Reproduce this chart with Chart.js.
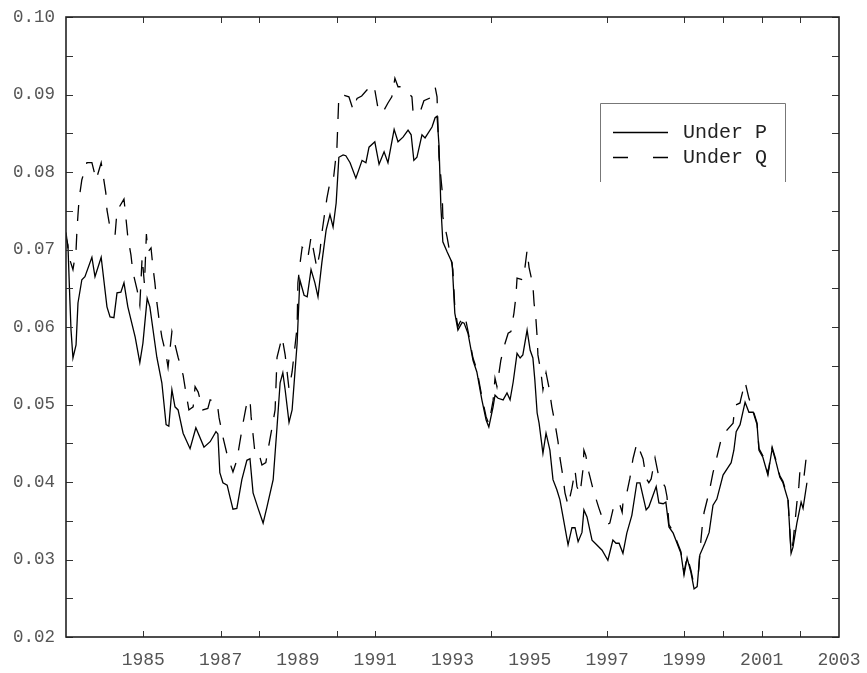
<!DOCTYPE html>
<html><head><meta charset="utf-8">
<script src="https://cdn.jsdelivr.net/npm/chart.js@4/dist/chart.umd.min.js"></script>
<style>html,body{margin:0;padding:0;background:#fff}#wrap{width:867px;height:673px}</style>
</head><body><div id="wrap"><canvas id="c" width="867" height="673"></canvas></div>
<script>
// [year, value]
const underP = [[1983.00,0.0716],[1983.05,0.0706],[1983.10,0.0635],[1983.13,0.0596],[1983.18,0.0560],[1983.26,0.0577],[1983.31,0.0631],[1983.41,0.0661],[1983.49,0.0665],[1983.67,0.0690],[1983.75,0.0665],[1983.91,0.0690],[1984.06,0.0626],[1984.14,0.0613],[1984.24,0.0612],[1984.32,0.0644],[1984.42,0.0645],[1984.50,0.0657],[1984.60,0.0626],[1984.79,0.0587],[1984.91,0.0554],[1984.99,0.0579],[1985.10,0.0637],[1985.17,0.0626],[1985.35,0.0561],[1985.48,0.0528],[1985.59,0.0474],[1985.66,0.0472],[1985.74,0.0519],[1985.82,0.0497],[1985.90,0.0493],[1986.03,0.0463],[1986.21,0.0443],[1986.36,0.0470],[1986.57,0.0445],[1986.73,0.0452],[1986.88,0.0465],[1986.93,0.0462],[1986.98,0.0412],[1987.06,0.0399],[1987.17,0.0396],[1987.24,0.0381],[1987.32,0.0365],[1987.42,0.0366],[1987.55,0.0403],[1987.68,0.0428],[1987.76,0.0430],[1987.84,0.0386],[1987.97,0.0366],[1988.10,0.0347],[1988.20,0.0368],[1988.36,0.0403],[1988.46,0.0471],[1988.54,0.0528],[1988.61,0.0541],[1988.67,0.0519],[1988.77,0.0477],[1988.85,0.0493],[1988.98,0.0579],[1989.05,0.0661],[1989.16,0.0641],[1989.24,0.0639],[1989.34,0.0674],[1989.44,0.0657],[1989.52,0.0639],[1989.62,0.0683],[1989.73,0.0725],[1989.83,0.0745],[1989.91,0.0729],[1989.99,0.0760],[1990.06,0.0819],[1990.17,0.0822],[1990.24,0.0821],[1990.35,0.0812],[1990.50,0.0792],[1990.66,0.0815],[1990.76,0.0812],[1990.84,0.0832],[1990.99,0.0839],[1991.10,0.0810],[1991.23,0.0826],[1991.33,0.0812],[1991.49,0.0855],[1991.59,0.0839],[1991.72,0.0845],[1991.85,0.0854],[1991.93,0.0848],[1992.00,0.0815],[1992.08,0.0819],[1992.21,0.0848],[1992.29,0.0844],[1992.47,0.0858],[1992.55,0.0870],[1992.60,0.0872],[1992.65,0.0835],[1992.70,0.0755],[1992.75,0.0710],[1992.86,0.0697],[1992.99,0.0683],[1993.06,0.0618],[1993.14,0.0596],[1993.25,0.0606],[1993.30,0.0605],[1993.40,0.0592],[1993.53,0.0557],[1993.63,0.0542],[1993.76,0.0506],[1993.87,0.0480],[1993.94,0.0471],[1994.05,0.0497],[1994.10,0.0512],[1994.18,0.0508],[1994.31,0.0506],[1994.41,0.0515],[1994.49,0.0506],[1994.57,0.0529],[1994.67,0.0566],[1994.75,0.0560],[1994.82,0.0564],[1994.93,0.0596],[1995.01,0.0570],[1995.08,0.0560],[1995.13,0.0532],[1995.19,0.0489],[1995.24,0.0476],[1995.34,0.0437],[1995.42,0.0463],[1995.52,0.0441],[1995.60,0.0403],[1995.70,0.0390],[1995.78,0.0377],[1995.86,0.0355],[1995.99,0.0319],[1996.09,0.0341],[1996.17,0.0341],[1996.25,0.0323],[1996.35,0.0335],[1996.40,0.0364],[1996.48,0.0355],[1996.61,0.0325],[1996.71,0.0320],[1996.87,0.0312],[1997.02,0.0299],[1997.15,0.0325],[1997.23,0.0321],[1997.31,0.0321],[1997.41,0.0308],[1997.51,0.0334],[1997.64,0.0357],[1997.77,0.0399],[1997.85,0.0399],[1998.01,0.0364],[1998.08,0.0368],[1998.27,0.0394],[1998.34,0.0373],[1998.45,0.0372],[1998.52,0.0374],[1998.60,0.0342],[1998.71,0.0334],[1998.81,0.0321],[1998.91,0.0308],[1998.99,0.0280],[1999.07,0.0302],[1999.17,0.0283],[1999.25,0.0262],[1999.33,0.0265],[1999.40,0.0306],[1999.53,0.0321],[1999.64,0.0335],[1999.74,0.0370],[1999.84,0.0378],[2000.00,0.0409],[2000.13,0.0419],[2000.21,0.0425],[2000.28,0.0441],[2000.34,0.0465],[2000.44,0.0474],[2000.57,0.0503],[2000.67,0.0490],[2000.78,0.0490],[2000.88,0.0474],[2000.93,0.0441],[2001.03,0.0432],[2001.16,0.0409],[2001.27,0.0443],[2001.37,0.0426],[2001.47,0.0406],[2001.55,0.0399],[2001.68,0.0377],[2001.76,0.0308],[2001.81,0.0316],[2001.91,0.0347],[2002.02,0.0374],[2002.07,0.0366],[2002.17,0.0399]];

const underQ = [[1983.00,0.0722],[1983.08,0.0690],[1983.18,0.0674],[1983.26,0.0699],[1983.28,0.0721],[1983.31,0.0745],[1983.34,0.0766],[1983.41,0.0790],[1983.54,0.0812],[1983.67,0.0812],[1983.78,0.0790],[1983.91,0.0812],[1983.96,0.0796],[1984.03,0.0773],[1984.06,0.0751],[1984.14,0.0728],[1984.27,0.0719],[1984.32,0.0750],[1984.50,0.0765],[1984.55,0.0741],[1984.60,0.0716],[1984.68,0.0693],[1984.73,0.0671],[1984.84,0.0648],[1984.91,0.0628],[1984.97,0.0690],[1985.03,0.0655],[1985.08,0.0720],[1985.12,0.0697],[1985.20,0.0702],[1985.25,0.0677],[1985.30,0.0657],[1985.35,0.0632],[1985.41,0.0609],[1985.48,0.0587],[1985.59,0.0564],[1985.64,0.0548],[1985.74,0.0594],[1985.90,0.0561],[1986.03,0.0538],[1986.10,0.0516],[1986.18,0.0493],[1986.29,0.0497],[1986.34,0.0523],[1986.42,0.0516],[1986.54,0.0493],[1986.67,0.0495],[1986.73,0.0506],[1986.91,0.0503],[1986.96,0.0483],[1987.06,0.0458],[1987.17,0.0435],[1987.32,0.0413],[1987.42,0.0428],[1987.50,0.0452],[1987.58,0.0476],[1987.66,0.0497],[1987.76,0.0507],[1987.79,0.0484],[1987.84,0.0461],[1987.89,0.0437],[1987.99,0.0437],[1988.07,0.0422],[1988.17,0.0425],[1988.25,0.0448],[1988.33,0.0470],[1988.41,0.0493],[1988.46,0.0561],[1988.59,0.0587],[1988.67,0.0564],[1988.77,0.0520],[1988.85,0.0542],[1988.98,0.0600],[1989.00,0.0657],[1989.05,0.0680],[1989.11,0.0703],[1989.18,0.0699],[1989.26,0.0690],[1989.34,0.0716],[1989.42,0.0695],[1989.49,0.0676],[1989.57,0.0697],[1989.62,0.0721],[1989.68,0.0742],[1989.75,0.0766],[1989.83,0.0787],[1989.91,0.0787],[1989.96,0.0809],[1990.01,0.0832],[1990.06,0.0899],[1990.20,0.0899],[1990.32,0.0897],[1990.43,0.0880],[1990.53,0.0895],[1990.65,0.0898],[1990.79,0.0906],[1990.97,0.0912],[1990.99,0.0906],[1991.07,0.0883],[1991.18,0.0876],[1991.23,0.0880],[1991.33,0.0889],[1991.43,0.0897],[1991.51,0.0921],[1991.59,0.0910],[1991.64,0.0910],[1991.80,0.0905],[1991.95,0.0897],[1991.98,0.0877],[1992.08,0.0880],[1992.16,0.0877],[1992.26,0.0892],[1992.40,0.0895],[1992.47,0.0903],[1992.55,0.0910],[1992.60,0.0897],[1992.65,0.0819],[1992.73,0.0777],[1992.75,0.0742],[1992.86,0.0716],[1993.01,0.0674],[1993.06,0.0625],[1993.14,0.0600],[1993.19,0.0606],[1993.32,0.0615],[1993.40,0.0595],[1993.53,0.0560],[1993.63,0.0545],[1993.76,0.0510],[1993.87,0.0484],[1993.94,0.0475],[1994.05,0.0505],[1994.10,0.0534],[1994.15,0.0523],[1994.25,0.0557],[1994.36,0.0579],[1994.44,0.0592],[1994.51,0.0594],[1994.59,0.0618],[1994.64,0.0639],[1994.67,0.0663],[1994.82,0.0661],[1994.85,0.0667],[1994.93,0.0699],[1994.98,0.0677],[1995.08,0.0654],[1995.11,0.0631],[1995.16,0.0609],[1995.19,0.0587],[1995.21,0.0564],[1995.29,0.0541],[1995.34,0.0519],[1995.42,0.0541],[1995.50,0.0521],[1995.57,0.0497],[1995.65,0.0476],[1995.73,0.0452],[1995.78,0.0431],[1995.86,0.0406],[1995.91,0.0386],[1995.99,0.0370],[1996.09,0.0392],[1996.17,0.0415],[1996.22,0.0394],[1996.30,0.0385],[1996.38,0.0418],[1996.40,0.0441],[1996.45,0.0434],[1996.53,0.0412],[1996.64,0.0390],[1996.79,0.0366],[1996.90,0.0350],[1997.00,0.0345],[1997.07,0.0347],[1997.15,0.0364],[1997.20,0.0370],[1997.31,0.0374],[1997.39,0.0361],[1997.41,0.0373],[1997.51,0.0386],[1997.59,0.0405],[1997.67,0.0430],[1997.77,0.0450],[1997.93,0.0430],[1998.01,0.0405],[1998.08,0.0399],[1998.14,0.0404],[1998.24,0.0431],[1998.34,0.0406],[1998.45,0.0398],[1998.50,0.0394],[1998.55,0.0381],[1998.60,0.0345],[1998.71,0.0336],[1998.81,0.0323],[1998.91,0.0310],[1998.99,0.0283],[1999.07,0.0304],[1999.17,0.0286],[1999.22,0.0274],[1999.35,0.0274],[1999.40,0.0310],[1999.46,0.0342],[1999.51,0.0361],[1999.64,0.0387],[1999.74,0.0412],[1999.84,0.0432],[1999.95,0.0455],[2000.10,0.0467],[2000.26,0.0476],[2000.31,0.0499],[2000.44,0.0502],[2000.46,0.0507],[2000.57,0.0529],[2000.67,0.0508],[2000.78,0.0492],[2000.88,0.0476],[2000.93,0.0443],[2001.03,0.0434],[2001.16,0.0411],[2001.27,0.0445],[2001.37,0.0428],[2001.47,0.0408],[2001.55,0.0401],[2001.68,0.0379],[2001.76,0.0310],[2001.81,0.0322],[2001.91,0.0373],[2001.96,0.0394],[2001.99,0.0415],[2002.09,0.0405],[2002.15,0.0431]];

const seriesNames = ['Under P', 'Under Q'];
const xLabelYears = [1985,1987,1989,1991,1993,1995,1997,1999,2001,2003];
const xTickYears = [1985,1987,1988,1990,1991,1994,1997,1999,2000,2001,2002];
const yLabelValues = [0.02,0.03,0.04,0.05,0.06,0.07,0.08,0.09,0.10];
const yTickValues = [0.02,0.025,0.03,0.035,0.04,0.045,0.05,0.055,0.06,0.065,0.07,0.075,0.08,0.085,0.09,0.095,0.10];

const FONT = "'Liberation Mono', 'DejaVu Sans Mono', monospace";

const framePlugin = {
  id: 'frame',
  afterDraw(chart) {
    const ctx = chart.ctx, a = chart.chartArea;
    const xs = chart.scales.x, ys = chart.scales.y;
    ctx.save();
    ctx.strokeStyle = '#333';
    ctx.lineWidth = 1;
    ctx.beginPath();
    xTickYears.forEach(v => {
      const px = Math.round(xs.getPixelForValue(v)) + 0.5;
      ctx.moveTo(px, a.bottom); ctx.lineTo(px, a.bottom - 6);
      ctx.moveTo(px, a.top); ctx.lineTo(px, a.top + 6);
    });
    yTickValues.forEach(v => {
      const py = Math.round(ys.getPixelForValue(v)) + 0.5;
      ctx.moveTo(a.left, py); ctx.lineTo(a.left + 7, py);
      ctx.moveTo(a.right, py); ctx.lineTo(a.right - 7, py);
    });
    ctx.stroke();
    ctx.lineWidth = 1.6;
    ctx.strokeStyle = '#222';
    ctx.strokeRect(a.left, a.top, a.right - a.left, a.bottom - a.top);

    // legend
    const L = 600, R = 785, T = 103, B = 182;
    ctx.lineWidth = 1;
    ctx.strokeStyle = '#777';
    ctx.beginPath();
    ctx.moveTo(L + 0.5, B); ctx.lineTo(L + 0.5, T + 0.5); ctx.lineTo(R + 0.5, T + 0.5); ctx.lineTo(R + 0.5, B);
    ctx.stroke();
    const rows = [132, 157];
    chart.data.datasets.forEach((ds, i) => {
      ctx.strokeStyle = '#000';
      ctx.lineWidth = 1.3;
      ctx.setLineDash(i === 0 ? [] : [15, 25]);
      ctx.beginPath();
      ctx.moveTo(613, rows[i] + 0.5); ctx.lineTo(668, rows[i] + 0.5);
      ctx.stroke();
      ctx.setLineDash([]);
      ctx.fillStyle = '#222';
      ctx.font = '20px ' + FONT;
      ctx.textBaseline = 'middle';
      ctx.textAlign = 'left';
      ctx.fillText(ds.label, 683, rows[i] + 1);
    });
    ctx.restore();
  }
};

new Chart(document.getElementById('c'), {
  type: 'line',
  data: {
    datasets: [
      { label: seriesNames[0], data: underP.map(p => ({x: p[0], y: p[1]})), borderColor: '#000', borderWidth: 1.3, pointRadius: 0, tension: 0, fill: false },
      { label: seriesNames[1], data: underQ.map(p => ({x: p[0], y: p[1]})), borderColor: '#000', borderWidth: 1.3, borderDash: [16, 13], pointRadius: 0, tension: 0, fill: false }
    ]
  },
  options: {
    responsive: false,
    animation: false,
    devicePixelRatio: 1,
    layout: { padding: { left: 0, top: 17, right: 28, bottom: 0 } },
    plugins: { legend: { display: false }, tooltip: { enabled: false } },
    scales: {
      x: {
        type: 'linear', min: 1983, max: 2003,
        afterBuildTicks: s => { s.ticks = xLabelYears.map(v => ({ value: v })); },
        afterFit: s => { s.height = 36; },
        grid: { display: false }, border: { display: false },
        ticks: { autoSkip: false, maxRotation: 0, padding: 4, color: '#555', font: { family: FONT, size: 18 }, callback: v => String(v) }
      },
      y: {
        type: 'linear', min: 0.02, max: 0.10,
        afterBuildTicks: s => { s.ticks = yLabelValues.map(v => ({ value: v })); },
        afterFit: s => { s.width = 66; },
        grid: { display: false }, border: { display: false },
        ticks: { padding: 3, color: '#555', font: { family: FONT, size: 17.5 }, callback: v => v.toFixed(2) }
      }
    }
  },
  plugins: [framePlugin]
});
</script>
</body></html>
